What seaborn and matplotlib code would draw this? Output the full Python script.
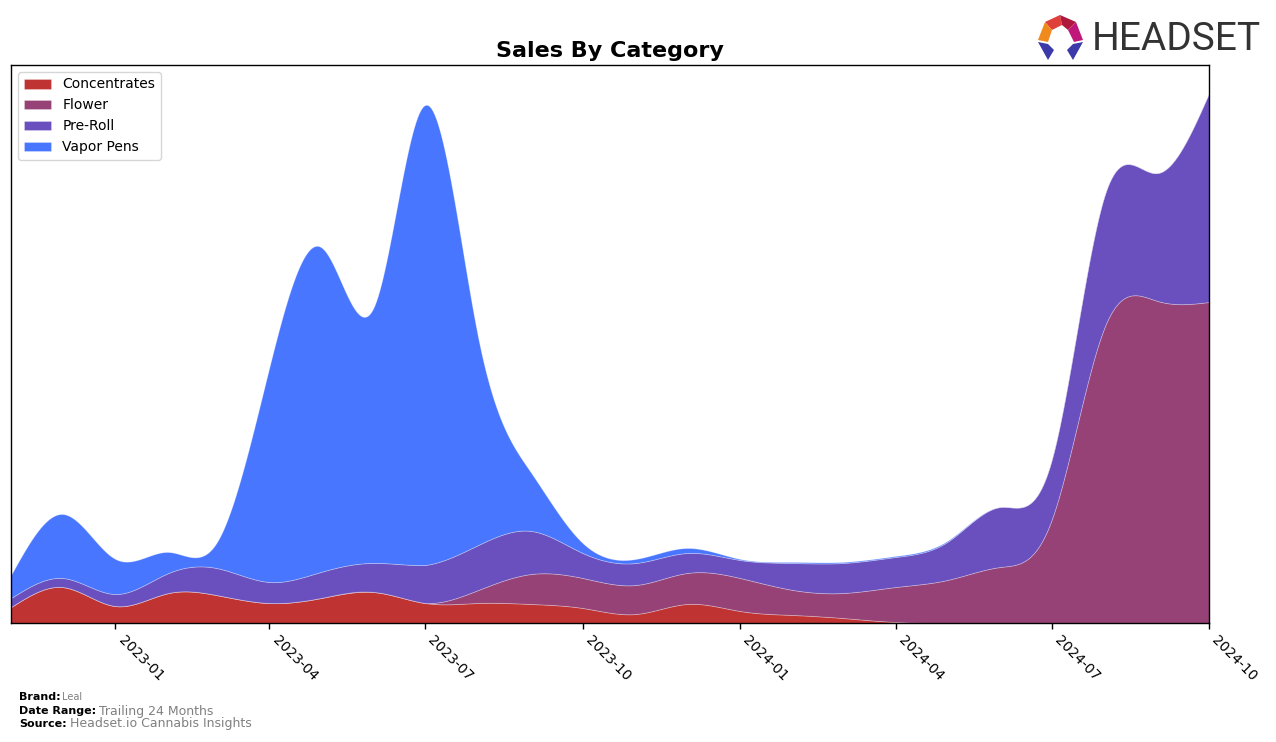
import numpy as np
import pandas as pd
import matplotlib
matplotlib.use("Agg")
import matplotlib.pyplot as plt
import matplotlib.dates as mdates
from matplotlib import font_manager
from matplotlib.patches import Polygon
import seaborn as sns

# ---------------- data (monthly) ----------------
months = pd.date_range("2022-11-01", "2024-10-01", freq="MS")
categories = ["Concentrates", "Flower", "Pre-Roll", "Vapor Pens"]
concentrates = [16, 36, 17, 30, 28, 20, 25, 31, 20, 20, 19, 15, 9, 19, 12, 8, 5, 1, 0, 0, 0, 0, 0, 0]
flower = [0, 0, 0, 0, 0, 0, 0, 0, 0, 13, 30, 30, 29, 31, 33, 25, 25, 35, 43, 56, 103, 296, 322, 321]
pre_roll = [9, 9, 12, 20, 27, 21, 26, 29, 38, 45, 43, 25, 22, 20, 18, 27, 30, 30, 38, 60, 60, 132, 128, 209]
vapor_pens = [23, 64, 35, 21, 25, 215, 325, 256, 460, 207, 58, 10, 4, 5, 1, 1, 1, 1, 1, 0, 0, 0, 0, 0]
colors = ["#c03333", "#964277", "#6a4fbe", "#4876ff"]

df = pd.DataFrame({"month": months, "Concentrates": concentrates, "Flower": flower,
                   "Pre-Roll": pre_roll, "Vapor Pens": vapor_pens})


def natural_spline(x, y, xs):
    x = np.asarray(x, float)
    y = np.asarray(y, float)
    n = len(x)
    h = np.diff(x)
    A = np.zeros((n, n))
    b = np.zeros(n)
    A[0, 0] = 1
    A[-1, -1] = 1
    for i in range(1, n - 1):
        A[i, i - 1] = h[i - 1]
        A[i, i] = 2 * (h[i - 1] + h[i])
        A[i, i + 1] = h[i]
        b[i] = 3 * ((y[i + 1] - y[i]) / h[i] - (y[i] - y[i - 1]) / h[i - 1])
    c = np.linalg.solve(A, b)
    bc = (y[1:] - y[:-1]) / h - h * (2 * c[:-1] + c[1:]) / 3
    d = (c[1:] - c[:-1]) / (3 * h)
    idx = np.clip(np.searchsorted(x, xs) - 1, 0, n - 2)
    dx = xs - x[idx]
    return y[idx] + bc[idx] * dx + c[idx] * dx ** 2 + d[idx] * dx ** 3


# ---------------- figure ----------------
sns.set_style("white")
plt.rcParams["font.family"] = ["DejaVu Sans"]
plt.rcParams["text.color"] = "black"
plt.rcParams["xtick.color"] = "black"
plt.rcParams["axes.labelcolor"] = "black"
fig = plt.figure(figsize=(12.76, 7.42), dpi=100)
ax = fig.add_axes([11 / 1276, 1 - 623 / 742, (1209 - 11) / 1276, (623 - 65) / 742])

xnum = mdates.date2num(df["month"])
xs = np.linspace(xnum[0], xnum[-1], 700)
smooth = [np.clip(natural_spline(xnum, df[c].values, xs), 0, None) for c in categories]

ax.stackplot(xs, *smooth, labels=categories, colors=colors,
             edgecolor=(1, 1, 1, 0.3), linewidth=0.6)

ax.set_xlim(xnum[0], xnum[-1])
ax.set_ylim(0, 558)
ax.set_yticks([])
ticks = pd.date_range("2023-01-01", "2024-10-01", freq="QS")
ax.set_xticks(mdates.date2num(ticks))
ax.set_xticklabels([t.strftime("%Y-%m") for t in ticks], rotation=-45,
                   ha="left", fontsize=10, color="black")
ax.tick_params(axis="x", length=4, width=1, color="black", bottom=True, pad=3)
for s in ax.spines.values():
    s.set_color("black")
    s.set_linewidth(1)

ax.set_title("Sales By Category", fontsize=16, fontweight="bold", pad=6, color="black")
leg = ax.legend(loc="upper left", fontsize=10, frameon=True, borderaxespad=0.5,
                handlelength=2, handleheight=0.7)
leg.get_frame().set_edgecolor("#cccccc")
for t in leg.get_texts():
    t.set_color("black")

# ---------------- footer ----------------
fig.text(19 / 1276, 1 - 697 / 742, "Brand:", fontsize=8, fontweight="bold", va="center", color="black")
fig.text(62 / 1276, 1 - 697 / 742, "Leal", fontsize=7, color="gray", va="center")
fig.text(19 / 1276, 1 - 711 / 742, "Date Range:", fontsize=8, fontweight="bold", va="center", color="black")
fig.text(99 / 1276, 1 - 711 / 742, "Trailing 24 Months", fontsize=9, color="gray", va="center")
fig.text(19 / 1276, 1 - 724 / 742, "Source:", fontsize=8, fontweight="bold", va="center", color="black")
fig.text(70 / 1276, 1 - 724 / 742, "Headset.io Cannabis Insights", fontsize=9, color="gray", va="center")

# ---------------- logo ----------------
names = {f.name for f in font_manager.fontManager.ttflist}
logo_font = "Liberation Sans Narrow" if "Liberation Sans Narrow" in names else "Roboto"
fig.text(1092 / 1276, 1 - 39 / 742, "HEADSET", fontsize=35 if logo_font != "Roboto" else 28,
         color="#333333", va="center", ha="left", family=logo_font)


def P(pts):
    return [(x / 1276, 1 - y / 742) for x, y in pts]


logo_parts = [
    ([(1045, 22), (1060, 15), (1062, 25), (1052, 30)], "#e0403a"),
    ([(1060, 15), (1076, 22), (1068, 30), (1062, 25)], "#b0173d"),
    ([(1076, 22), (1083, 40), (1074, 42), (1068, 30)], "#c0187a"),
    ([(1045, 22), (1052, 30), (1048, 42), (1038, 40)], "#f08a1c"),
    ([(1038, 42), (1048, 44), (1054, 50), (1048, 60)], "#3b3aa8"),
    ([(1083, 42), (1073, 44), (1067, 50), (1073, 60)], "#3b3aa8"),
]
for pts, col in logo_parts:
    fig.patches.append(Polygon(P(pts), closed=True, facecolor=col, edgecolor="none",
                               transform=fig.transFigure, figure=fig))

fig.savefig("out.png", dpi=100)
